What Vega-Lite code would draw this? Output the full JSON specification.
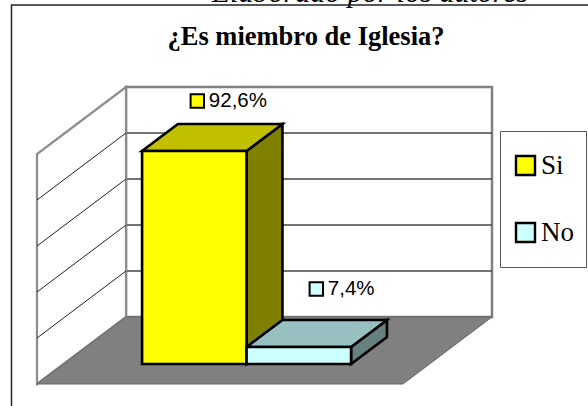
{
  "$schema": "https://vega.github.io/schema/vega-lite/v6.json",
  "width": 588,
  "height": 406,
  "padding": 0,
  "autosize": {"type": "none"},
  "background": "white",
  "title": {
    "text": "¿Es miembro de Iglesia?",
    "anchor": "middle",
    "dx": 12,
    "dy": 93,
    "offset": 0,
    "baseline": "alphabetic",
    "font": "Liberation Serif",
    "fontSize": 26.5,
    "fontWeight": "bold",
    "color": "#000000"
  },
  "config": {"view": {"stroke": null}},
  "params": [
    {"name": "dx", "value": 0.2432},
    {"name": "dy", "value": 29.13},
    {"name": "d0", "value": 0.2985},
    {"name": "bd", "value": 0.403},
    {"name": "w", "value": 0.2855}
  ],
  "datasets": {
    "bars": [
      {"series": "Si", "value": 92.6, "label": "92,6%"},
      {"series": "No", "value": 7.4, "label": "7,4%"}
    ],
    "ticks": [{"v": 20}, {"v": 40}, {"v": 60}, {"v": 80}],
    "depth": [{"t": 0}, {"t": 1}],
    "note": [{"text": "Elaborado por los autores"}]
  },
  "encoding": {
    "x": {"type": "quantitative", "axis": null, "scale": {"domain": [-0.10109, 1.50546], "nice": false, "zero": false}},
    "y": {"type": "quantitative", "axis": null, "scale": {"domain": [-9.565, 166.96], "nice": false, "zero": false}}
  },
  "layer": [
    {
      "data": {"name": "note"},
      "mark": {"type": "text", "font": "Liberation Serif", "fontStyle": "italic", "fontSize": 30, "align": "center", "baseline": "alphabetic", "color": "#000000"},
      "encoding": {
        "x": {"datum": 0.91, "type": "quantitative"},
        "y": {"datum": 166.09, "type": "quantitative"},
        "text": {"field": "text"}
      }
    },
    {
      "data": {"name": "note"},
      "mark": {"type": "rect", "fill": null, "stroke": "#222222", "strokeWidth": 1.5},
      "encoding": {
        "x": {"datum": -0.0697, "type": "quantitative"},
        "x2": {"datum": 1.7},
        "y": {"datum": 164.78, "type": "quantitative"},
        "y2": {"datum": -30}
      }
    },
    {
      "data": {"name": "note"},
      "mark": {"type": "rect", "fill": "white", "stroke": "#808080", "strokeWidth": 2.5},
      "encoding": {
        "x": {"datum": 0.2432, "type": "quantitative"},
        "x2": {"datum": 1.2432},
        "y": {"datum": 29.13, "type": "quantitative"},
        "y2": {"datum": 129.13}
      }
    },
    {
      "data": {"name": "ticks"},
      "transform": [
        {"calculate": "datum.v + dy", "as": "yb"},
        {"calculate": "dx", "as": "xb"},
        {"calculate": "1 + dx", "as": "xe"}
      ],
      "mark": {"type": "rule", "stroke": "#444444", "strokeWidth": 1.3},
      "encoding": {
        "x": {"field": "xb", "type": "quantitative"},
        "x2": {"field": "xe"},
        "y": {"field": "yb", "type": "quantitative"}
      }
    },
    {
      "data": {"name": "depth"},
      "transform": [
        {"calculate": "datum.t * dx", "as": "xp"},
        {"calculate": "datum.t * dy", "as": "yp"},
        {"calculate": "datum.yp + 100", "as": "yt"}
      ],
      "mark": {"type": "area", "orient": "vertical", "fill": "white", "stroke": "#8c8c8c", "strokeWidth": 2.2},
      "encoding": {
        "x": {"field": "xp", "type": "quantitative"},
        "y": {"field": "yp", "type": "quantitative"},
        "y2": {"field": "yt"}
      }
    },
    {
      "data": {"name": "ticks"},
      "transform": [
        {"calculate": "0", "as": "xa"},
        {"calculate": "dx", "as": "xb"},
        {"calculate": "datum.v + dy", "as": "yb"}
      ],
      "mark": {"type": "rule", "stroke": "#222222", "strokeWidth": 1},
      "encoding": {
        "x": {"field": "xa", "type": "quantitative"},
        "x2": {"field": "xb"},
        "y": {"field": "v", "type": "quantitative"},
        "y2": {"field": "yb"}
      }
    },
    {
      "data": {"name": "depth"},
      "transform": [
        {"calculate": "datum.t * dx", "as": "xa"},
        {"calculate": "1 + datum.t * dx", "as": "xb"},
        {"calculate": "datum.t * dy", "as": "yp"}
      ],
      "mark": {"type": "area", "orient": "horizontal", "fill": "#808080", "stroke": "#666666", "strokeWidth": 1},
      "encoding": {
        "x": {"field": "xa", "type": "quantitative"},
        "x2": {"field": "xb"},
        "y": {"field": "yp", "type": "quantitative"}
      }
    },
    {
      "data": {"name": "bars"},
      "transform": [
        {"calculate": "0.2145 + w * indexof(['Si','No'], datum.series)", "as": "x0"},
        {"calculate": "[0, 1]", "as": "t"},
        {"flatten": ["t"]},
        {"calculate": "d0 + datum.t * bd", "as": "d"},
        {"calculate": "datum.x0 + w + datum.d * dx", "as": "xp"},
        {"calculate": "datum.d * dy", "as": "yp"},
        {"calculate": "datum.yp + datum.value", "as": "yt"}
      ],
      "mark": {"type": "area", "orient": "vertical", "stroke": "#000000", "strokeWidth": 2.6, "strokeJoin": "miter"},
      "encoding": {
        "detail": {"field": "series"},
        "x": {"field": "xp", "type": "quantitative"},
        "y": {"field": "yp", "type": "quantitative"},
        "y2": {"field": "yt"},
        "fill": {"condition": {"test": "datum.series === 'Si'", "value": "#808000"}, "value": "#668080"}
      }
    },
    {
      "data": {"name": "bars"},
      "transform": [
        {"calculate": "0.2145 + w * indexof(['Si','No'], datum.series)", "as": "x0"},
        {"calculate": "[0, 1]", "as": "t"},
        {"flatten": ["t"]},
        {"calculate": "d0 + datum.t * bd", "as": "d"},
        {"calculate": "datum.x0 + datum.d * dx", "as": "xa"},
        {"calculate": "datum.xa + w", "as": "xb"},
        {"calculate": "datum.value + datum.d * dy", "as": "yp"}
      ],
      "mark": {"type": "area", "orient": "horizontal", "stroke": "#000000", "strokeWidth": 2.6, "strokeJoin": "miter"},
      "encoding": {
        "detail": {"field": "series"},
        "x": {"field": "xa", "type": "quantitative"},
        "x2": {"field": "xb"},
        "y": {"field": "yp", "type": "quantitative"},
        "fill": {"condition": {"test": "datum.series === 'Si'", "value": "#C0C000"}, "value": "#99C0C0"}
      }
    },
    {
      "data": {"name": "bars"},
      "transform": [
        {"calculate": "0.2145 + w * indexof(['Si','No'], datum.series) + d0 * dx", "as": "xa"},
        {"calculate": "datum.xa + w", "as": "xb"},
        {"calculate": "d0 * dy", "as": "ya"},
        {"calculate": "datum.ya + datum.value", "as": "yb"}
      ],
      "mark": {"type": "rect", "stroke": "#000000", "strokeWidth": 2.6},
      "encoding": {
        "x": {"field": "xa", "type": "quantitative"},
        "x2": {"field": "xb"},
        "y": {"field": "ya", "type": "quantitative"},
        "y2": {"field": "yb"},
        "fill": {
          "field": "series",
          "type": "nominal",
          "scale": {"domain": ["Si", "No"], "range": ["#FFFF00", "#CCFFFF"]},
          "legend": {
            "orient": "none",
            "legendX": 500,
            "legendY": 131,
            "title": null,
            "padding": 12,
            "strokeColor": "#555555",
            "fillColor": "white",
            "symbolType": "square",
            "symbolSize": 361,
            "symbolStrokeColor": "#000000",
            "symbolStrokeWidth": 2.4,
            "symbolOpacity": 1,
            "labelFont": "Liberation Serif",
            "labelFontSize": 27,
            "labelColor": "#000000",
            "labelOffset": 2,
            "symbolOffset": 0,
            "rowPadding": 22,
            "clipHeight": 45
          }
        }
      }
    },
    {
      "data": {"name": "bars"},
      "transform": [
        {"calculate": "0.2145 + w * indexof(['Si','No'], datum.series) + d0 * dx + w * 0.5", "as": "xc"},
        {"calculate": "(d0 + bd) * dy + datum.value", "as": "yt"},
        {"filter": "datum.series === 'Si'"}
      ],
      "layer": [
        {
          "mark": {"type": "point", "shape": "square", "filled": true, "fill": "#FFFF00", "stroke": "#000000", "strokeWidth": 2, "size": 180, "opacity": 1, "xOffset": 3, "yOffset": -23},
          "encoding": {"x": {"field": "xc", "type": "quantitative"}, "y": {"field": "yt", "type": "quantitative"}}
        },
        {
          "mark": {"type": "text", "font": "Liberation Sans", "fontSize": 20.5, "align": "left", "baseline": "middle", "color": "#000000", "xOffset": 14.5, "yOffset": -23},
          "encoding": {"x": {"field": "xc", "type": "quantitative"}, "y": {"field": "yt", "type": "quantitative"}, "text": {"field": "label"}}
        }
      ]
    },
    {
      "data": {"name": "bars"},
      "transform": [
        {"calculate": "0.2145 + w * indexof(['Si','No'], datum.series) + d0 * dx + w * 0.5", "as": "xc"},
        {"calculate": "(d0 + bd) * dy + datum.value", "as": "yt"},
        {"filter": "datum.series === 'No'"}
      ],
      "layer": [
        {
          "mark": {"type": "point", "shape": "square", "filled": true, "fill": "#CCFFFF", "stroke": "#000000", "strokeWidth": 2, "size": 180, "opacity": 1, "xOffset": 17.5, "yOffset": -31},
          "encoding": {"x": {"field": "xc", "type": "quantitative"}, "y": {"field": "yt", "type": "quantitative"}}
        },
        {
          "mark": {"type": "text", "font": "Liberation Sans", "fontSize": 20.5, "align": "left", "baseline": "middle", "color": "#000000", "xOffset": 29, "yOffset": -31},
          "encoding": {"x": {"field": "xc", "type": "quantitative"}, "y": {"field": "yt", "type": "quantitative"}, "text": {"field": "label"}}
        }
      ]
    }
  ]
}
